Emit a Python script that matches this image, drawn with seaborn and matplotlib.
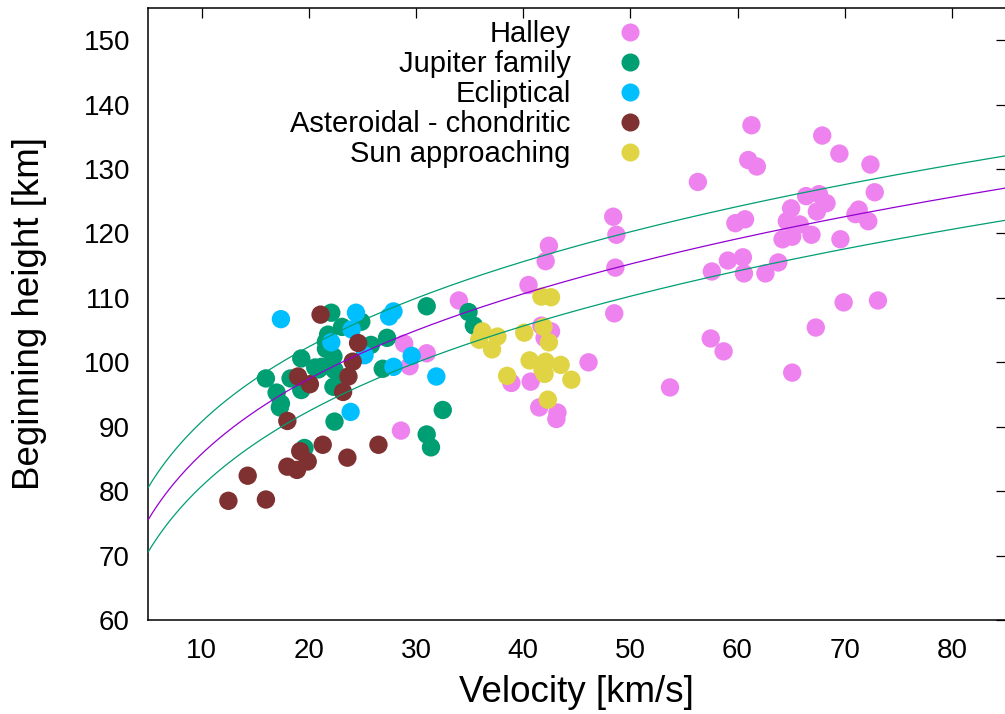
import numpy as np
import pandas as pd
import matplotlib
matplotlib.use("Agg")
import matplotlib.pyplot as plt
from matplotlib.lines import Line2D
import seaborn as sns

# ---------------- data ----------------
halley_v = [61.3, 67.9, 61.0, 61.8, 69.5, 72.4, 72.8, 56.3, 48.4, 48.7, 42.4, 42.1,
            48.6, 48.5, 40.5, 34.0, 28.9, 31.0, 29.4, 28.6, 41.7, 42.6, 42.0, 46.1,
            38.9, 40.7, 41.5, 43.2, 43.1, 53.7, 57.5, 58.7, 57.6, 59.1, 60.5, 60.6,
            59.8, 60.7, 66.4, 67.6, 68.3, 65.0, 67.4, 71.3, 71.0, 72.2, 64.6, 65.8,
            66.9, 64.2, 65.1, 69.6, 63.8, 62.6, 69.9, 73.1, 67.3, 65.1]
halley_h = [136.8, 135.2, 131.4, 130.4, 132.4, 130.7, 126.4, 128.0, 122.6, 119.8, 118.1, 115.7,
            114.7, 107.6, 112.0, 109.6, 102.9, 101.4, 99.4, 89.4, 105.7, 104.8, 103.8, 100.0,
            96.8, 97.0, 93.0, 92.2, 91.2, 96.1, 103.7, 101.7, 114.1, 115.8, 116.3, 113.8,
            121.6, 122.2, 125.8, 126.1, 124.7, 123.9, 123.4, 123.7, 123.0, 121.9, 121.9, 121.4,
            119.8, 119.1, 119.5, 119.1, 115.5, 113.8, 109.3, 109.6, 105.4, 98.4]

jupiter_v = [16.0, 17.0, 17.3, 19.3, 18.3, 19.3, 20.6, 21.8, 22.1, 23.1, 21.6, 22.3,
             22.4, 22.8, 24.9, 25.2, 25.8, 27.3, 26.9, 31.0, 34.9, 35.4, 22.4, 32.5,
             31.0, 31.4, 19.6, 17.4, 22.3, 20.9, 21.6, 21.2]
jupiter_h = [97.5, 95.3, 93.0, 100.6, 97.5, 95.7, 99.2, 104.3, 107.7, 105.5, 102.1, 100.9,
             98.8, 96.8, 106.3, 102.3, 102.7, 103.8, 99.0, 108.7, 107.8, 105.7, 90.8, 92.6,
             88.8, 86.8, 86.7, 93.6, 96.2, 98.9, 103.2, 99.3]

ecliptical_v = [17.4, 24.4, 27.9, 27.5, 22.1, 24.0, 25.2, 29.6, 27.9, 31.9, 23.9]
ecliptical_h = [106.7, 107.7, 107.9, 107.1, 103.1, 105.1, 101.1, 101.0, 99.3, 97.8, 92.3]

asteroidal_v = [21.1, 24.6, 24.1, 23.7, 23.2, 19.0, 20.1, 18.0, 21.3, 23.6, 26.5, 19.2,
                19.9, 18.0, 18.9, 14.3, 12.5, 16.0]
asteroidal_h = [107.4, 103.0, 100.1, 97.8, 95.4, 97.8, 96.6, 90.9, 87.2, 85.2, 87.2, 86.2,
                84.6, 83.8, 83.3, 82.4, 78.5, 78.7]

sun_v = [41.7, 42.6, 36.2, 37.6, 35.9, 37.1, 40.1, 41.9, 42.4, 40.6, 42.1, 43.5,
         38.5, 42.0, 41.8, 44.5, 42.3]
sun_h = [110.2, 110.1, 104.8, 104.0, 103.5, 102.0, 104.6, 105.5, 103.1, 100.3, 100.1, 99.6,
         97.9, 98.2, 98.9, 97.3, 94.2]

groups = ["Halley", "Jupiter family", "Ecliptical", "Asteroidal - chondritic", "Sun approaching"]
colors = ["#ee82ee", "#009e73", "#00bfff", "#7f3030", "#e1d444"]

# model curve h = a * v**b, band +/- offset
fit_a = 56.2
fit_b = 0.1836
band = 5.0

xticks = [10, 20, 30, 40, 50, 60, 70, 80]
yticks = [60, 70, 80, 90, 100, 110, 120, 130, 140, 150]

# ---------------- figure ----------------
frames = []
for name, v, h in zip(groups,
                      [halley_v, jupiter_v, ecliptical_v, asteroidal_v, sun_v],
                      [halley_h, jupiter_h, ecliptical_h, asteroidal_h, sun_h]):
    frames.append(pd.DataFrame({"v": v, "h": h, "group": name}))
df = pd.concat(frames, ignore_index=True)

sns.set_style("white")
plt.rcParams["font.family"] = ["Liberation Sans", "DejaVu Sans"]
plt.rcParams["text.color"] = "black"
plt.rcParams["axes.labelcolor"] = "black"
plt.rcParams["xtick.color"] = "black"
plt.rcParams["ytick.color"] = "black"

fig = plt.figure(figsize=(10.05, 7.14), dpi=100)
ax = fig.add_axes([148 / 1005, 94 / 714, 857.5 / 1005, 612 / 714])

palette = dict(zip(groups, colors))
sns.scatterplot(data=df, x="v", y="h", hue="group", hue_order=groups, palette=palette,
                s=175, linewidth=0, alpha=1, legend=False, ax=ax, zorder=2)

vv = np.linspace(5, 85, 400)
hh = fit_a * vv ** fit_b
ax.plot(vv, hh + band, color="#009e73", lw=0.9, zorder=3)
ax.plot(vv, hh, color="#9400d3", lw=0.9, zorder=3)
ax.plot(vv, hh - band, color="#009e73", lw=0.9, zorder=3)

ax.set_xlim(5, 85)
ax.set_ylim(60, 155)
ax.set_xticks(xticks)
ax.set_yticks(yticks)
ax.tick_params(axis="both", direction="in", length=7, width=0.9, color="black",
               labelcolor="black", labelsize=20, top=True, right=True)
ax.tick_params(axis="y", pad=13)
ax.tick_params(axis="x", pad=13)
for sp in ax.spines.values():
    sp.set_color("black")
    sp.set_linewidth(1.1)

ax.set_xlabel("Velocity [km/s]", fontsize=26.5, labelpad=8, color="black")
ax.set_ylabel("Beginning height [km]", fontsize=26.5, labelpad=26, color="black")

handles = [Line2D([], [], linestyle="none", marker="o", markersize=13,
                  markerfacecolor=c, markeredgewidth=0) for c in colors]
leg = ax.legend(handles, groups, loc="upper right",
                bbox_to_anchor=(645 / 1005, 1 - 20 / 714), bbox_transform=fig.transFigure,
                frameon=False, markerfirst=False, fontsize=21, handlelength=1.0,
                handletextpad=1.55, labelspacing=0.07, borderpad=0, borderaxespad=0)
for t in leg.get_texts():
    t.set_color("black")

fig.savefig("out.png", dpi=100)
